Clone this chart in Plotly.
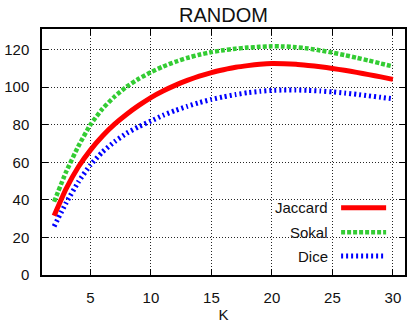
import plotly.graph_objects as go

K = list(range(2, 31))
jaccard = [31.6, 46, 57.5, 66.5, 74, 80.3, 85.6, 90.3, 94.5, 98, 101, 103.6, 105.9, 107.8, 109.3,
           110.6, 111.5, 112.2, 112.6, 112.5, 112.2, 111.6, 110.9, 110, 109, 107.9, 106.7, 105.5, 104.2]
sokal = [39, 55, 68.5, 80, 88.5, 95, 100.3, 104.5, 108, 111, 113.5, 115.6, 117.3, 118.7, 119.7,
         120.5, 121.1, 121.5, 121.8, 121.7, 121.3, 120.6, 119.6, 118.4, 117.1, 115.7, 114.2, 112.6, 111.1]
dice = [25.9, 38.5, 49.5, 58.6, 65.5, 71, 75.5, 79, 82, 85, 87.6, 89.8, 91.8, 93.5, 94.9,
        96.1, 97.1, 97.8, 98.3, 98.5, 98.5, 98.3, 98, 97.5, 96.9, 96.2, 95.4, 94.6, 93.8]
series_names = ["Jaccard", "Sokal", "Dice"]
colors = ["#ff0000", "#33cc33", "#0000ff"]
dashes = ["solid", "4px,2px", "2px,3px"]
widths = [5, 4.5, 5]
x_ticks = [5, 10, 15, 20, 25, 30]
y_ticks = [0, 20, 40, 60, 80, 100, 120]

FONT = "Liberation Sans, Arial, sans-serif"

fig = go.Figure()
for name, ys, c, d, w in zip(series_names, [jaccard, sokal, dice], colors, dashes, widths):
    fig.add_trace(go.Scatter(x=K, y=ys, mode="lines", name=name,
                             line=dict(color=c, dash=d, width=w, shape="spline", smoothing=0.5),
                             showlegend=False))

axis_common = dict(
    showline=True, linecolor="black", linewidth=1.5, mirror="allticks",
    ticks="inside", ticklen=6, tickcolor="black", tickwidth=1,
    showgrid=True, gridcolor="rgba(0,0,0,0.85)", gridwidth=1, griddash="1px,2px",
    zeroline=False, tickfont=dict(family=FONT, size=15, color="#111"), automargin=False,
)

fig.update_xaxes(range=[1, 31], tickvals=x_ticks, ticklabelstandoff=8,
                 title=dict(text="K", font=dict(family=FONT, size=15, color="#111"), standoff=6),
                 **axis_common)
fig.update_yaxes(range=[0, 131], tickvals=y_ticks, ticklabelstandoff=8, **axis_common)

# legend box and keys (gnuplot-style: text left of sample)
shapes = [dict(type="rect", xref="paper", yref="paper", x0=0.606, x1=0.975, y0=0.03, y1=0.318,
               fillcolor="white", line=dict(width=0), layer="between")]
annotations = []
ys_key = [0.273, 0.174, 0.077]
for name, c, d, w, yk in zip(series_names, colors, dashes, widths, ys_key):
    shapes.append(dict(type="line", xref="paper", yref="paper", x0=0.824, x1=0.948, y0=yk, y1=yk,
                       line=dict(color=c, width=w, dash=d), layer="above"))
    annotations.append(dict(xref="paper", yref="paper", x=0.793, y=yk, text=name, showarrow=False,
                            xanchor="right", yanchor="middle",
                            font=dict(family=FONT, size=15, color="#111")))

fig.update_layout(
    width=407, height=323,
    margin=dict(l=42, r=2, t=29, b=48),
    paper_bgcolor="white", plot_bgcolor="white",
    title=dict(text="RANDOM", x=0.549, xanchor="center", y=0.955, yanchor="middle",
               font=dict(family=FONT, size=20, color="#111")),
    shapes=shapes, annotations=annotations,
)

fig.write_html("out.html", config={"displayModeBar": False},
               post_script="document.body.style.margin='0';document.body.style.overflow='hidden';")
